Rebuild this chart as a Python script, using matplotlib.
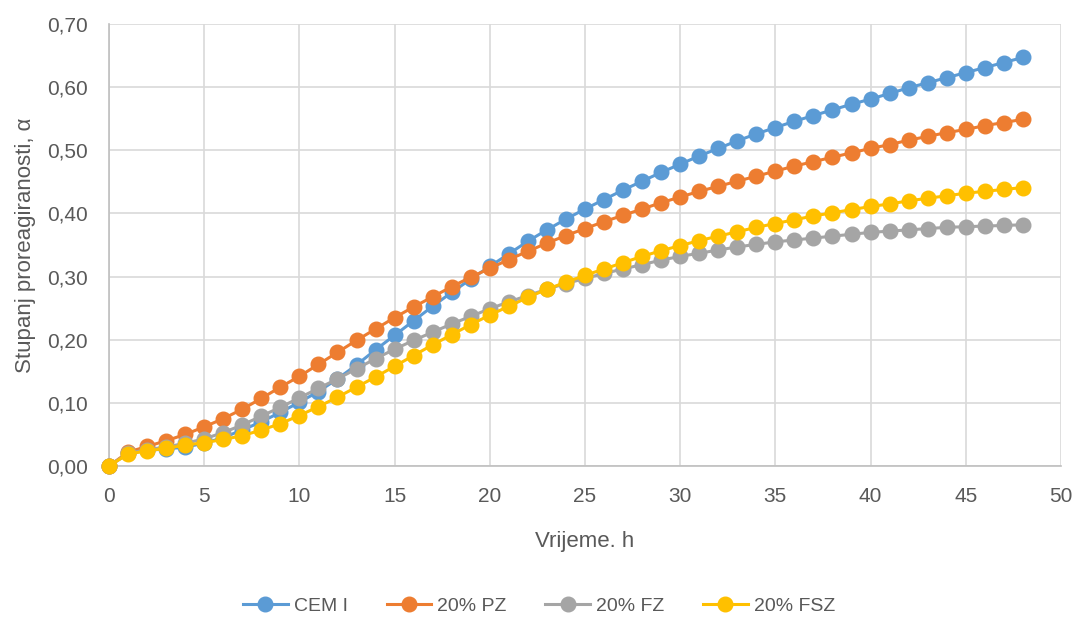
import numpy as np
import matplotlib
matplotlib.use("Agg")
from matplotlib import pyplot as plt

plt.rcParams['font.family'] = ['Liberation Sans', 'DejaVu Sans']

hours = list(range(0, 49))

cem_i = [0.000, 0.020, 0.025, 0.027, 0.030, 0.036, 0.045, 0.057, 0.070, 0.085,
         0.101, 0.118, 0.138, 0.160, 0.184, 0.207, 0.230, 0.253, 0.275, 0.296,
         0.316, 0.336, 0.356, 0.374, 0.391, 0.407, 0.422, 0.437, 0.451, 0.465,
         0.478, 0.491, 0.503, 0.515, 0.526, 0.536, 0.546, 0.555, 0.564, 0.573,
         0.581, 0.590, 0.599, 0.607, 0.615, 0.623, 0.631, 0.639, 0.647]
pz_20 = [0.000, 0.022, 0.031, 0.040, 0.050, 0.062, 0.075, 0.090, 0.107, 0.125,
         0.142, 0.161, 0.180, 0.199, 0.217, 0.235, 0.252, 0.268, 0.284, 0.299,
         0.313, 0.327, 0.340, 0.353, 0.365, 0.376, 0.387, 0.397, 0.407, 0.417,
         0.426, 0.435, 0.443, 0.451, 0.459, 0.467, 0.475, 0.482, 0.489, 0.496,
         0.503, 0.509, 0.516, 0.522, 0.528, 0.533, 0.539, 0.544, 0.549]
fz_20 = [0.000, 0.020, 0.026, 0.030, 0.036, 0.043, 0.053, 0.065, 0.079, 0.093,
         0.108, 0.123, 0.138, 0.154, 0.170, 0.185, 0.199, 0.212, 0.225, 0.237,
         0.249, 0.260, 0.270, 0.280, 0.289, 0.297, 0.305, 0.312, 0.319, 0.326,
         0.332, 0.337, 0.342, 0.347, 0.351, 0.355, 0.358, 0.361, 0.364, 0.367,
         0.370, 0.372, 0.374, 0.376, 0.378, 0.379, 0.380, 0.381, 0.382]
fsz_20 = [0.000, 0.019, 0.024, 0.028, 0.033, 0.037, 0.042, 0.048, 0.057, 0.067,
          0.080, 0.094, 0.109, 0.125, 0.141, 0.158, 0.175, 0.192, 0.208, 0.224,
          0.239, 0.253, 0.267, 0.280, 0.291, 0.302, 0.312, 0.322, 0.332, 0.341,
          0.349, 0.357, 0.364, 0.371, 0.378, 0.384, 0.390, 0.396, 0.401, 0.406,
          0.411, 0.415, 0.420, 0.424, 0.428, 0.432, 0.435, 0.438, 0.441]

series = [
    ("CEM I", cem_i, "#5B9BD5"),
    ("20% PZ", pz_20, "#ED7D31"),
    ("20% FZ", fz_20, "#A5A5A5"),
    ("20% FSZ", fsz_20, "#FFC000"),
]

fig = plt.figure(figsize=(10.78, 6.17), dpi=100)
ax = fig.add_axes([0.1011, 0.2447, 0.8831, 0.7164])

for i, (name, vals, col) in enumerate(series):
    ax.plot(hours, vals, '-o', color=col, lw=2.2, markersize=10.5,
            label=name, clip_on=False, zorder=3 + i)

ax.set_xlim(0, 50)
ax.set_ylim(0, 0.70)
ax.set_xticks(np.arange(0, 51, 5))
ax.set_yticks(np.arange(0, 0.71, 0.1))
ax.set_yticklabels([f"{v:.2f}".replace('.', ',') for v in np.arange(0, 0.71, 0.1)])

ax.grid(True, color="#D9D9D9", lw=1.2)
ax.set_axisbelow(True)
for s in ['top', 'right']:
    ax.spines[s].set_visible(False)
for s in ['left', 'bottom']:
    ax.spines[s].set_color("#BFBFBF")
    ax.spines[s].set_linewidth(1.2)
ax.tick_params(axis='y', length=0, labelsize=15, colors="#595959", pad=15)
ax.tick_params(axis='x', length=0, labelsize=15, colors="#595959", pad=15)

ax.set_xlabel("Vrijeme. h", fontsize=16, color="#595959", labelpad=18)
ax.set_ylabel("Stupanj proreagiranosti, α", fontsize=16, color="#595959", labelpad=8)

fig.legend(loc='lower center', bbox_to_anchor=(0.5, -0.025), ncol=4, frameon=False,
           fontsize=14, labelcolor="#595959", handlelength=2.3,
           handletextpad=0.3, columnspacing=2.0)

fig.savefig("out.png", dpi=100)
